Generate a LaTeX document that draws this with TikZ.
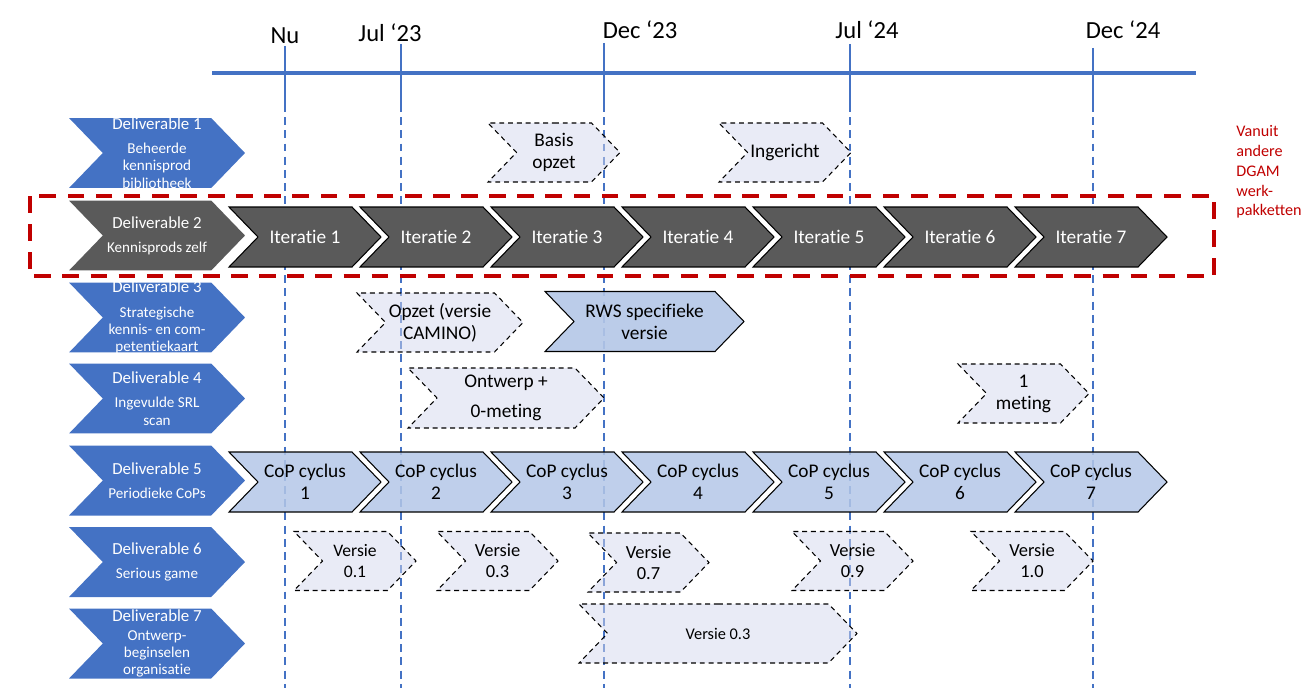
\documentclass[tikz,border=0pt]{standalone}
\usepackage{fontspec}
\setmainfont{Carlito}[Ligatures={NoCommon}]
\usepackage{xcolor}
\definecolor{colorDeliv}{HTML}{4472C4}
\definecolor{colorIter}{HTML}{5A5A5A}
\definecolor{colorCop}{HTML}{B4C7E7}
\definecolor{colorPlan}{HTML}{D3D7ED}
\definecolor{colorWp}{HTML}{C00000}
\usepackage{tikz}
\usetikzlibrary{shapes.symbols}
\tikzset{chevron/.style={signal, signal from=west, signal to=east, signal pointer angle=92, inner sep=0pt, align=center}}
\newcommand{\dsub}{\fontsize{8.6}{9.8}\selectfont}

\begin{document}
\begin{tikzpicture}[x=0.02cm, y=-0.02cm,
  deliv/.style={chevron, fill=colorDeliv, minimum width=3.52cm, minimum height=1.4cm},
  dtext/.style={text=white, align=center, inner sep=0pt, font=\fontsize{9.6}{9.8}\selectfont},
  iter/.style={chevron, draw=black, line width=0.6pt, fill=colorIter, text=white, minimum width=3.04cm, minimum height=1.2cm, font=\fontsize{11}{12.5}\selectfont},
  cop/.style={chevron, draw=black, line width=0.6pt, fill=colorCop, fill opacity=0.85, text opacity=1, minimum width=3.04cm, minimum height=1.2cm, font=\fontsize{11}{12.5}\selectfont},
  plan/.style={chevron, draw=black, line width=0.6pt, dash pattern=on 2.8pt off 2.2pt, fill=colorPlan, fill opacity=0.5, text opacity=1, minimum width=#1, minimum height=1.18cm, font=\fontsize{11}{12.5}\selectfont},
  tlabel/.style={inner sep=0pt, font=\fontsize{14}{16}\selectfont},
  timetick/.style={colorDeliv, line width=1.1pt},
  timedash/.style={colorDeliv, line width=1.1pt, dash pattern=on 4.5pt off 3pt}]
\useasboundingbox (0,0) rectangle (1310,696);

% tijdlijn
\draw[timetick] (285,46) -- (285,104);
\draw[timetick] (401,44) -- (401,104);
\draw[timetick] (604,43) -- (604,104);
\draw[timetick] (850,44) -- (850,104);
\draw[timetick] (1093,48) -- (1093,104);
\draw[timedash] (285,104) -- (285,688);
\draw[timedash] (401,104) -- (401,688);
\draw[timedash] (604,104) -- (604,688);
\draw[timedash] (850,104) -- (850,688);
\draw[timedash] (1093,104) -- (1093,688);
\draw[colorDeliv, line width=2.3pt] (212,73) -- (1196,73);
\node[tlabel] (nu) at (285,36) {Nu};
\node[tlabel] (jul23) at (390,33) {Jul ‘23};
\node[tlabel] (dec23) at (640,30) {Dec ‘23};
\node[tlabel] (jul24) at (867,30) {Jul ‘24};
\node[tlabel] (dec24) at (1123,30) {Dec ‘24};

% deliverables
\node[deliv] (d1) at (157,153) {};
\node[deliv, fill=colorIter] (d2) at (157,235.5) {};
\node[deliv] (d3) at (157,317.5) {};
\node[deliv] (d4) at (157,398.5) {};
\node[deliv] (d5) at (157,480.5) {};
\node[deliv] (d6) at (157,562) {};
\node[deliv] (d7) at (157,643.5) {};
\node[dtext] (t1) at (d1) {Deliverable 1\\[4pt]\dsub Beheerde\\\dsub kennisprod\\\dsub bibliotheek};
\node[dtext] (t2) at (d2) {Deliverable 2\\[4pt]\dsub Kennisprods zelf};
\node[dtext] (t3) at (d3) {Deliverable 3\\[4pt]\dsub Strategische\\\dsub kennis- en com-\\\dsub petentiekaart};
\node[dtext] (t4) at (d4) {Deliverable 4\\[4pt]\dsub Ingevulde SRL\\\dsub scan};
\node[dtext] (t5) at (d5) {Deliverable 5\\[4pt]\dsub Periodieke CoPs};
\node[dtext] (t6) at (d6) {Deliverable 6\\[4pt]\dsub Serious game};
\node[dtext] (t7) at (d7) {Deliverable 7\\[1pt]\dsub Ontwerp-\\\dsub beginselen\\\dsub organisatie};

% DGAM werkpakketten
\draw[colorWp, line width=2.3pt, dash pattern=on 9.5pt off 6.5pt] (30,196) rectangle (1214,276);
\node[colorWp, anchor=north west, inner sep=0pt, align=left, font=\fontsize{9.2}{11.3}\selectfont] (wp) at (1236,125) {Vanuit\\andere\\DGAM\\werk-\\pakketten};

% iteraties
\node[iter] (it1) at (305,237) {Iteratie 1};
\node[iter] (it2) at (436,237) {Iteratie 2};
\node[iter] (it3) at (567,237) {Iteratie 3};
\node[iter] (it4) at (698,237) {Iteratie 4};
\node[iter] (it5) at (829,237) {Iteratie 5};
\node[iter] (it6) at (960,237) {Iteratie 6};
\node[iter] (it7) at (1091,237) {Iteratie 7};

% CoP cycli
\node[cop] (cop1) at (305,482) {CoP cyclus\\1};
\node[cop] (cop2) at (436,482) {CoP cyclus\\2};
\node[cop] (cop3) at (567,482) {CoP cyclus\\3};
\node[cop] (cop4) at (698,482) {CoP cyclus\\4};
\node[cop] (cop5) at (829,482) {CoP cyclus\\5};
\node[cop] (cop6) at (960,482) {CoP cyclus\\6};
\node[cop] (cop7) at (1091,482) {CoP cyclus\\7};

% overige stappen
\node[plan=2.64cm] (basis) at (554,152.5) {Basis\\opzet};
\node[plan=2.64cm] (ingericht) at (785,152.5) {Ingericht};
\node[plan=3.32cm] (opzet) at (440,322.5) {Opzet (versie\\CAMINO)};
\node[cop, minimum width=3.98cm, fill opacity=0.9] (rws) at (644.5,321.5) {RWS specifieke\\versie};
\node[plan=3.92cm, minimum height=1.2cm] (ontwerp) at (506,398) {Ontwerp +\\[5pt]0-meting};
\node[plan=2.62cm] (meting) at (1023.5,393.5) {1\\meting};
\node[plan=2.44cm, font=\fontsize{10}{12}\selectfont] (v01) at (355,561) {Versie\\0.1};
\node[plan=2.42cm, font=\fontsize{10.5}{12}\selectfont] (v03) at (497.5,561) {Versie\\0.3};
\node[plan=2.42cm, font=\fontsize{10.5}{12}\selectfont] (v07) at (648.5,562.5) {Versie\\0.7};
\node[plan=2.42cm, font=\fontsize{10.5}{12}\selectfont] (v09) at (852.5,561) {Versie\\0.9};
\node[plan=2.44cm, font=\fontsize{10.5}{12}\selectfont] (v10) at (1032,561) {Versie\\1.0};
\node[plan=5.56cm, font=\fontsize{9.3}{11}\selectfont] (v03b) at (718,633.5) {Versie 0.3};
\end{tikzpicture}
\end{document}
